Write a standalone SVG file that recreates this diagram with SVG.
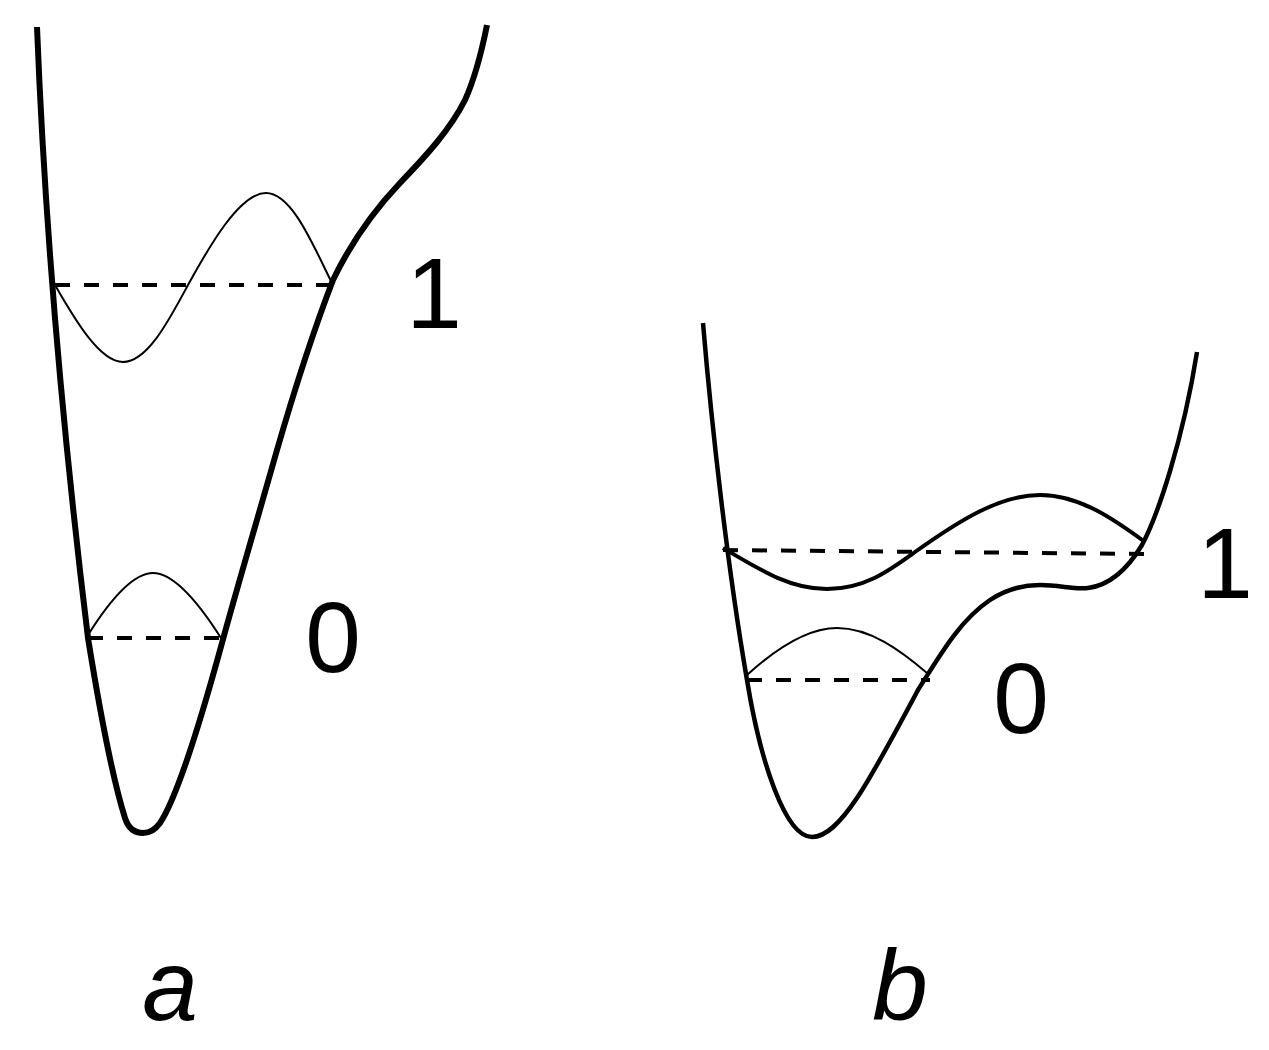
<svg xmlns="http://www.w3.org/2000/svg" width="1269" height="1050" viewBox="0 0 1269 1050">
<style>
.pot-a{fill:none;stroke:#000;stroke-width:6;stroke-linecap:butt;stroke-linejoin:round}
.pot-b{fill:none;stroke:#000;stroke-width:4.5;stroke-linejoin:round}
.wave-thin{fill:none;stroke:#000;stroke-width:2}
.wave-thick{fill:none;stroke:#000;stroke-width:4}
.level{fill:none;stroke:#000;stroke-width:4;stroke-dasharray:15 14}
.num{font-family:"Liberation Sans",Arial,sans-serif;font-size:100px;fill:#000}
.cap{font-family:"Liberation Sans",Arial,sans-serif;font-size:100px;font-style:italic;fill:#000;text-anchor:middle}
</style>
<rect width="1269" height="1050" fill="#fff"/>
<g id="panel-a">
<path class="pot-a" d="M37,27 C45,230 65,450 88,638 C98,700 113,780 125,818 C128.5,829 135,833 143,833 C150,833 155,830 160,823 C172,805 190,760 222,643 C235,595 260,510 277,450 C290,405 310,340 333,280 C345,255 365,220 400,183 C425,157 450,130 465,100 C475,78 482,50 487,25"/>
<path class="wave-thin" d="M55,285 C75,320 100,362 123,362 C148,362 170,318 188,285 C210,245 240,193 266,193 C293,193 315,250 333,285"/>
<path class="wave-thin" d="M88,635 C110,600 133,573 153,573 C175,573 200,605 221,638"/>
<line class="level" x1="55" y1="285" x2="333" y2="285"/>
<line class="level" x1="88" y1="638" x2="221" y2="638"/>
<text class="num" x="434" y="328" text-anchor="middle">1</text>
<text class="num" x="333" y="672" text-anchor="middle">0</text>
</g>
<g id="panel-b">
<path class="pot-b" d="M703,323 C712,430 728,570 747,680 C760,760 785,837 812,837 C840,837 870,780 918,690 C940,655 960,620 990,600 C1005,590 1020,585 1040,585 C1060,585 1075,590 1088,588 C1112,585 1130,565 1142,545 C1158,515 1183,440 1197,352"/>
<path class="wave-thick" d="M723,548 C760,570 790,589 827,589 C865,589 890,570 915,552 C960,520 1000,495 1040,495 C1080,495 1115,520 1145,542"/>
<path class="wave-thin" d="M747,675 C780,645 810,628 837,628 C870,628 900,650 927,673"/>
<line class="level" x1="723" y1="550" x2="1147" y2="554"/>
<line class="level" x1="747" y1="680" x2="930" y2="680"/>
<text class="num" x="1225" y="598" text-anchor="middle">1</text>
<text class="num" x="1021" y="733" text-anchor="middle">0</text>
</g>
<g id="captions">
<text class="cap" x="170" y="1020">a</text>
<text class="cap" x="900" y="1020">b</text>
</g>
</svg>
